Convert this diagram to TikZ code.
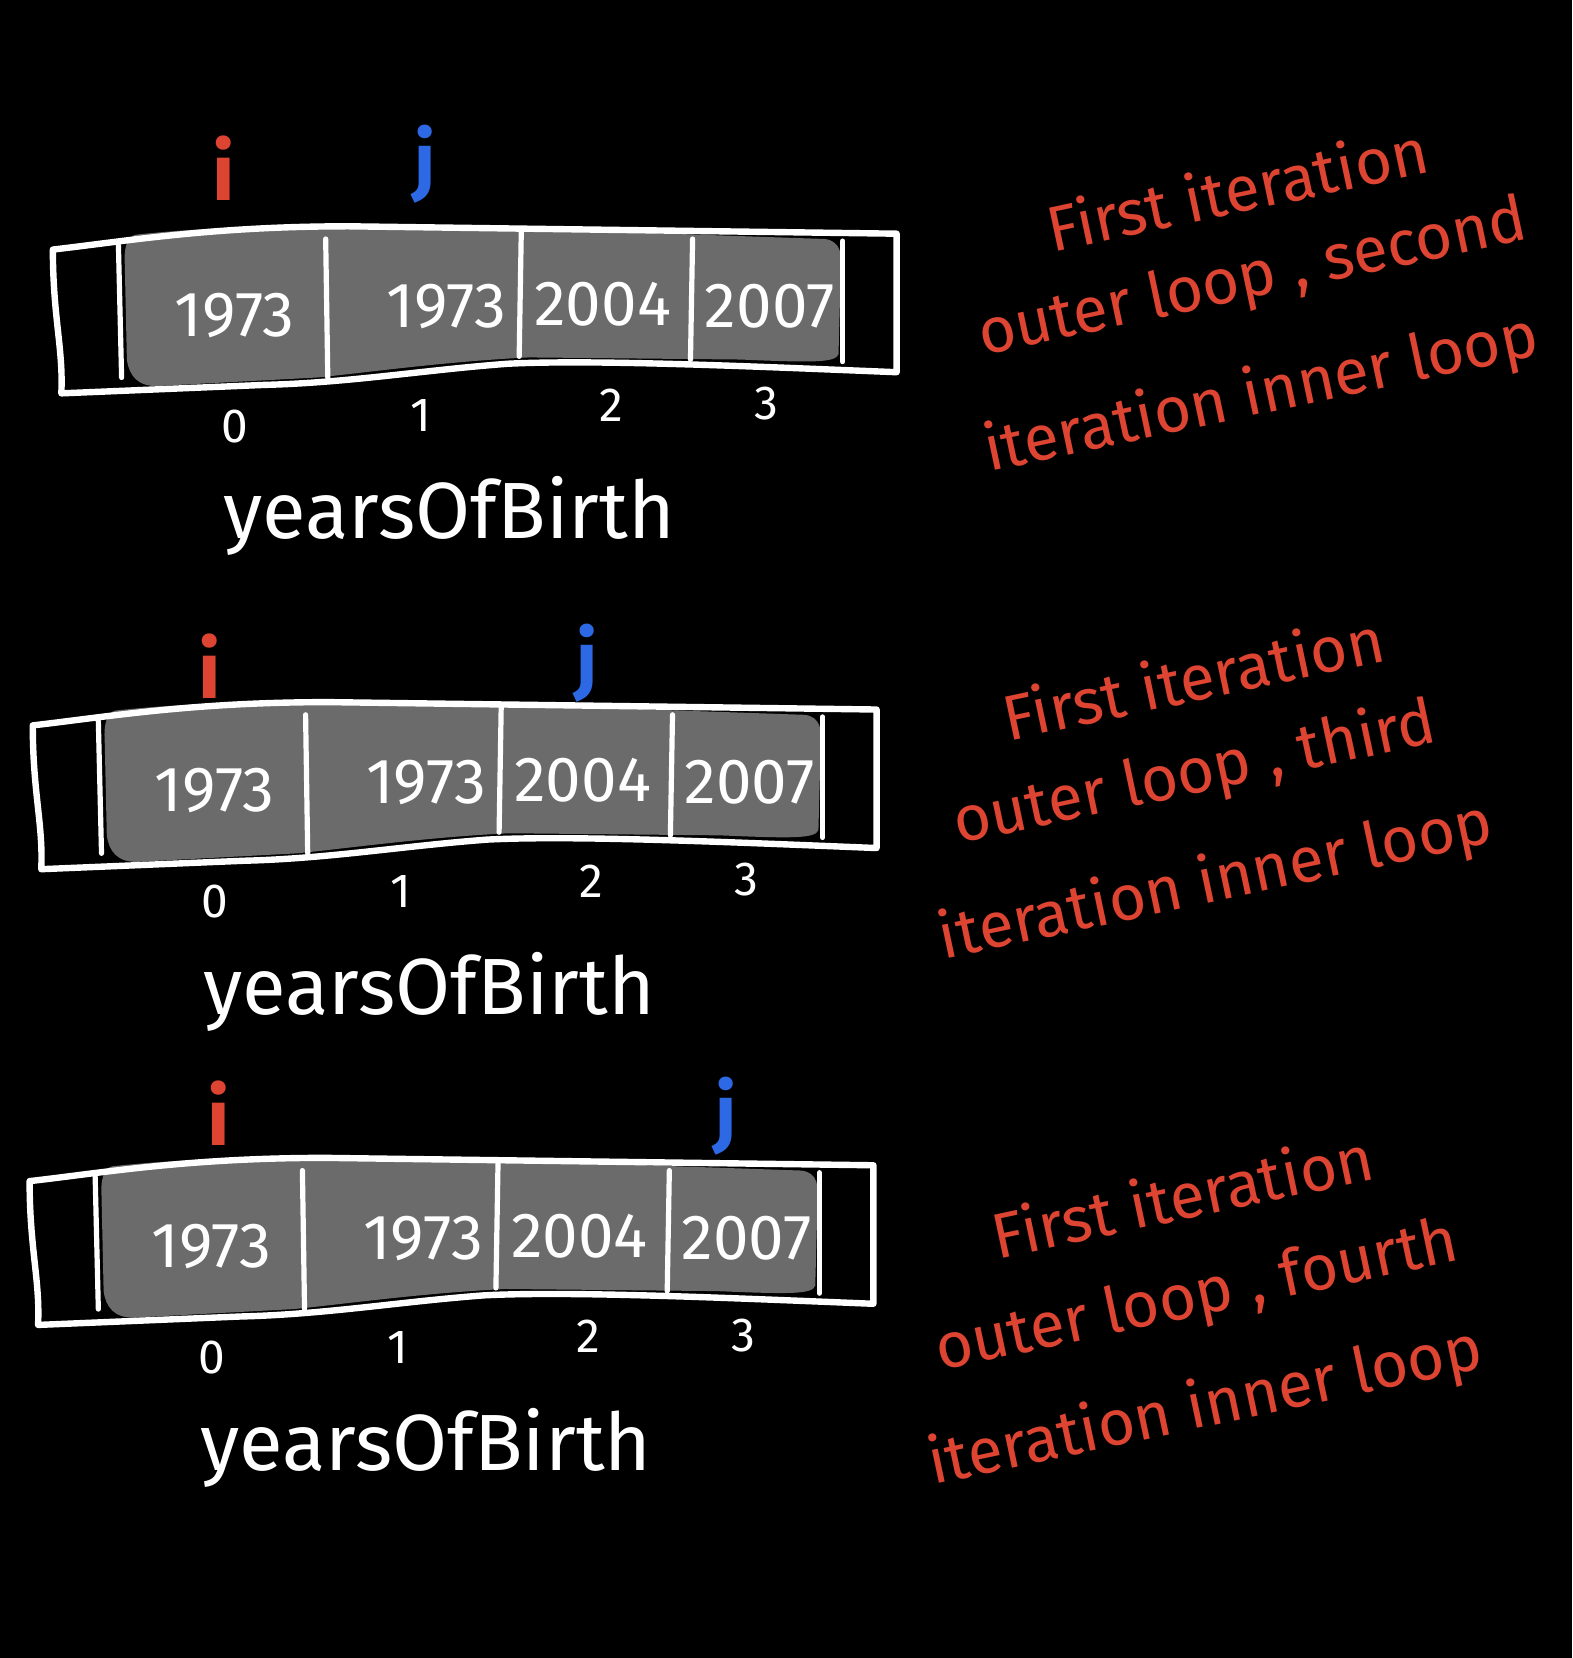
\documentclass[tikz,border=0pt]{standalone}
\usepackage{fontspec}
\setmainfont{Fira Sans}
\definecolor{ired}{RGB}{222,68,50}
\definecolor{jblue}{RGB}{45,105,228}
\definecolor{cellgray}{RGB}{107,107,107}
\begin{document}
\begin{tikzpicture}[x=0.5286bp,y=-0.5286bp,>=latex,line join=bevel,
  box/.style={white,line width=3.2bp,line cap=round,line join=round},
  cellline/.style={white,line width=2.6bp,line cap=round},
  shade/.style={fill=cellgray},
  cell/.style={white,font=\fontsize{32}{32}\selectfont},
  idx/.style={white,font=\fontsize{24}{24}\selectfont},
  arrname/.style={white,font=\fontsize{40}{40}\selectfont},
  ptri/.style={ired,font=\bfseries\fontsize{40}{40}\selectfont},
  ptrj/.style={jblue,font=\bfseries\fontsize{38}{38}\selectfont},
  note/.style={ired,font=\fontsize{32}{32}\selectfont,rotate=12,inner sep=1pt}]
%%
\fill[black] (0,0) rectangle (1487,1568);
\useasboundingbox (0,0) rectangle (1487,1568);
%% first array
\begin{scope}
  \fill[shade] (128,222) .. controls (200,214) and (300,212) .. (400,213) -- (780,226) .. controls (795,228) and (797,240) .. (795,260) -- (793,335) .. controls (790,343) and (770,343) .. (700,340) -- (500,338) .. controls (420,342) and (350,352) .. (300,357) -- (150,365) .. controls (130,366) and (122,355) .. (120,340) -- (118,250) .. controls (117,235) and (120,224) .. (128,222) -- cycle;
  \draw[box] (50,236) .. controls (120,228) and (200,214) .. (330,214) -- (848,221) -- (848,352) .. controls (700,346) and (560,340) .. (480,344) .. controls (400,350) and (330,362) .. (250,364) -- (58,372) .. controls (60,330) and (50,300) .. (50,236) -- cycle;
  \draw[cellline] (112,232) -- (115,357);
  \draw[cellline] (308,226) -- (310,357);
  \draw[cellline] (493,218) -- (491,337);
  \draw[cellline] (655,226) -- (653,340);
  \draw[cellline] (797,228) -- (797,342);
  \node (cell_1_0) at (222,298) [cell] {1973};
  \node (cell_1_1) at (422,290) [cell] {1973};
  \node (cell_1_2) at (570,288) [cell] {2004};
  \node (cell_1_3) at (728,290) [cell] {2007};
  \node (idx_1_0) at (222,403) [idx] {0};
  \node (idx_1_1) at (398,393) [idx] {1};
  \node (idx_1_2) at (578,383) [idx] {2};
  \node (idx_1_3) at (725,382) [idx] {3};
  \node (name_1) at (425,488) [arrname] {yearsOfBirth};
\end{scope}
\node (ptr_i_1) at (212,159) [ptri] {i};
\node (ptr_j_1) at (402,155) [ptrj] {j};
%% second array
\begin{scope}[shift={(-19,450)}]
  \fill[shade] (128,222) .. controls (200,214) and (300,212) .. (400,213) -- (780,226) .. controls (795,228) and (797,240) .. (795,260) -- (793,335) .. controls (790,343) and (770,343) .. (700,340) -- (500,338) .. controls (420,342) and (350,352) .. (300,357) -- (150,365) .. controls (130,366) and (122,355) .. (120,340) -- (118,250) .. controls (117,235) and (120,224) .. (128,222) -- cycle;
  \draw[box] (50,236) .. controls (120,228) and (200,214) .. (330,214) -- (848,221) -- (848,352) .. controls (700,346) and (560,340) .. (480,344) .. controls (400,350) and (330,362) .. (250,364) -- (58,372) .. controls (60,330) and (50,300) .. (50,236) -- cycle;
  \draw[cellline] (112,232) -- (115,357);
  \draw[cellline] (308,226) -- (310,357);
  \draw[cellline] (493,218) -- (491,337);
  \draw[cellline] (655,226) -- (653,340);
  \draw[cellline] (797,228) -- (797,342);
  \node (cell_2_0) at (222,298) [cell] {1973};
  \node (cell_2_1) at (422,290) [cell] {1973};
  \node (cell_2_2) at (570,288) [cell] {2004};
  \node (cell_2_3) at (728,290) [cell] {2007};
  \node (idx_2_0) at (222,403) [idx] {0};
  \node (idx_2_1) at (398,393) [idx] {1};
  \node (idx_2_2) at (578,383) [idx] {2};
  \node (idx_2_3) at (725,382) [idx] {3};
  \node (name_2) at (425,488) [arrname] {yearsOfBirth};
\end{scope}
\node (ptr_i_2) at (198,630) [ptri] {i};
\node (ptr_j_2) at (555,627) [ptrj] {j};
%% third array
\begin{scope}[shift={(-22,881)}]
  \fill[shade] (128,222) .. controls (200,214) and (300,212) .. (400,213) -- (780,226) .. controls (795,228) and (797,240) .. (795,260) -- (793,335) .. controls (790,343) and (770,343) .. (700,340) -- (500,338) .. controls (420,342) and (350,352) .. (300,357) -- (150,365) .. controls (130,366) and (122,355) .. (120,340) -- (118,250) .. controls (117,235) and (120,224) .. (128,222) -- cycle;
  \draw[box] (50,236) .. controls (120,228) and (200,214) .. (330,214) -- (848,221) -- (848,352) .. controls (700,346) and (560,340) .. (480,344) .. controls (400,350) and (330,362) .. (250,364) -- (58,372) .. controls (60,330) and (50,300) .. (50,236) -- cycle;
  \draw[cellline] (112,232) -- (115,357);
  \draw[cellline] (308,226) -- (310,357);
  \draw[cellline] (493,218) -- (491,337);
  \draw[cellline] (655,226) -- (653,340);
  \draw[cellline] (797,228) -- (797,342);
  \node (cell_3_0) at (222,298) [cell] {1973};
  \node (cell_3_1) at (422,290) [cell] {1973};
  \node (cell_3_2) at (570,288) [cell] {2004};
  \node (cell_3_3) at (728,290) [cell] {2007};
  \node (idx_3_0) at (222,403) [idx] {0};
  \node (idx_3_1) at (398,393) [idx] {1};
  \node (idx_3_2) at (578,383) [idx] {2};
  \node (idx_3_3) at (725,382) [idx] {3};
  \node (name_3) at (425,488) [arrname] {yearsOfBirth};
\end{scope}
\node (ptr_i_3) at (207,1053) [ptri] {i};
\node (ptr_j_3) at (687,1056) [ptrj] {j};
%% notes
\node (note_1_1) at (1170,178) [note] {First iteration};
\node (note_1_2) at (1185,265) [note] {outer loop , second};
\node (note_1_3) at (1193,374) [note] {iteration inner loop};
\node (note_2_1) at (1128,640) [note] {First iteration};
\node (note_2_2) at (1130,733) [note] {outer loop , third};
\node (note_2_3) at (1150,835) [note] {iteration inner loop};
\node (note_3_1) at (1118,1130) [note] {First iteration};
\node (note_3_2) at (1132,1228) [note] {outer loop , fourth};
\node (note_3_3) at (1140,1332) [note] {iteration inner loop};
%
\end{tikzpicture}
\end{document}
